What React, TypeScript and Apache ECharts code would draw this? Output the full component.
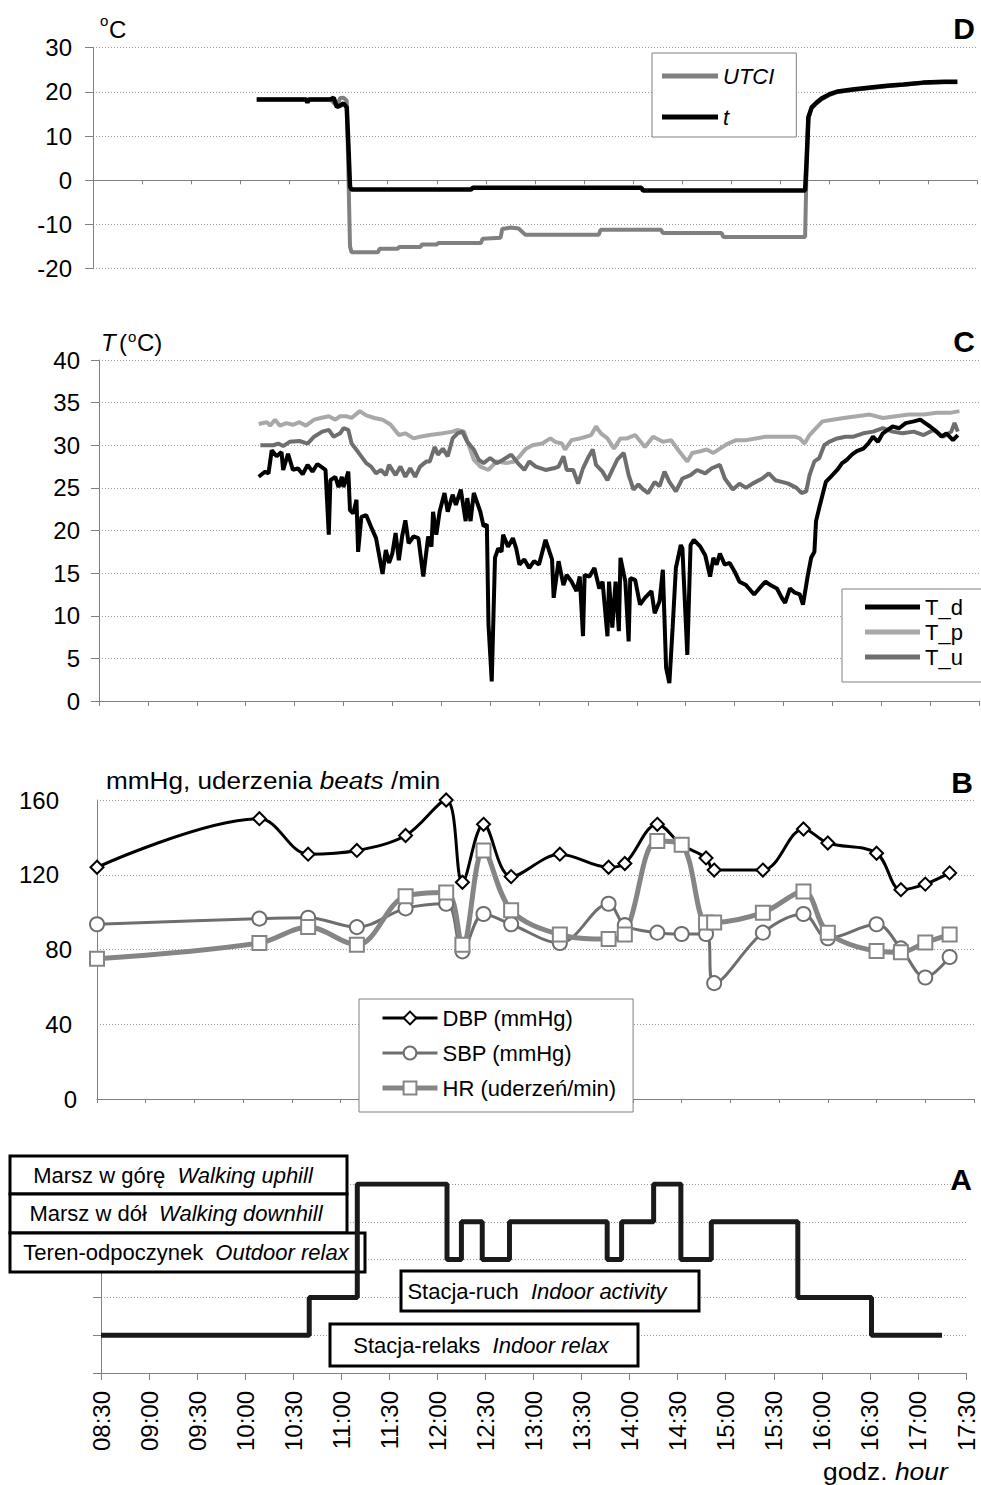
import React, { useEffect, useRef } from "react";
import * as echarts from "echarts";

const FONT = '"Liberation Sans", Arial, Helvetica, sans-serif';

// Time axis, minutes of the day (08:30 .. 17:30)
const X_MIN = 510;
const X_MAX = 1050;
const X_STEP = 30;

// ---------------- Panel D : UTCI and air temperature t (°C) ----------------
const dUTCI: [number, number][] = [
  [610, 18.3], [655, 18.3], [659, 16.8], [661, 18.6], [663, 18.7], [665, 18.0], [666, 2],
  [667, -15], [668, -16.3], [684, -16.3], [685, -15.5], [696, -15.5], [697, -15.1], [710, -15.1],
  [711, -14.5], [720, -14.5], [721, -14.2], [747, -14.2], [748, -13.2], [759, -13.0], [760, -11.0],
  [765, -10.7], [770, -10.9], [774, -12.3], [819, -12.3], [820, -11.2], [857, -11.2], [858, -11.9],
  [894, -11.9], [895, -12.8], [945, -12.8], [946, 5], [947, 14.0], [949, 16.3], [952, 17.4],
  [955, 18.3], [960, 19.3], [965, 20.0], [975, 20.5], [985, 20.9], [995, 21.3], [1005, 21.6],
  [1017, 22.0], [1030, 22.2], [1038, 22.2],
];
const dAirT: [number, number][] = [
  [610, 18.3], [640, 18.3], [641, 17.6], [642, 18.3], [655, 18.3], [657, 18.7], [659, 16.6],
  [661, 16.9], [663, 17.4], [665, 16.5], [666, 8], [667, -1.5], [668, -2.1], [741, -2.1],
  [742, -1.7], [845, -1.7], [846, -2.3], [945, -2.3], [946, 5], [947, 14.3], [949, 16.5],
  [952, 17.6], [955, 18.5], [960, 19.5], [965, 20.1], [975, 20.6], [985, 21.0], [995, 21.4],
  [1005, 21.7], [1017, 22.1], [1030, 22.3], [1038, 22.3],
];

// ---------------- Panel C : T_d, T_p, T_u (°C) ----------------
const cTd: [number, number][] = [
  [608, 26.3], [612, 26.9], [614, 26.7], [616, 29.4], [619, 28.7], [622, 29.2], [623, 27.1], [626, 29.0],
  [629, 27.1], [632, 27.3], [635, 26.6], [638, 27.7], [641, 26.9], [644, 27.8], [649, 27.1], [651, 19.5],
  [652, 25.9], [655, 26.3], [657, 25.1], [659, 26.3], [660, 25.1], [663, 26.9], [664, 22.4], [666, 22.0],
  [668, 23.6], [669, 17.5], [671, 21.6], [674, 21.8], [677, 20.4], [680, 19.1], [684, 14.9], [686, 17.7],
  [688, 16.2], [690, 17.3], [692, 19.7], [694, 16.5], [696, 19.3], [698, 21.2], [700, 18.5], [703, 19.3],
  [706, 19.1], [709, 14.6], [712, 19.3], [714, 18.1], [715, 22.2], [717, 19.5], [719, 22.2], [722, 24.4],
  [724, 22.2], [727, 24.2], [729, 23.0], [732, 24.8], [735, 21.1], [736, 23.8], [738, 21.1], [740, 24.4],
  [744, 22.2], [746, 20.5], [748, 20.7], [749, 9.0], [751, 2.3], [753, 16.8], [755, 17.9], [757, 17.5],
  [758, 19.5], [761, 18.1], [764, 19.1], [766, 17.9], [768, 16.0], [771, 16.6], [774, 15.6], [777, 16.4],
  [780, 16.0], [784, 18.9], [788, 16.6], [789, 12.1], [792, 16.4], [795, 13.6], [797, 14.8], [800, 14.0],
  [803, 12.9], [805, 14.6], [807, 7.6], [808, 14.8], [811, 14.6], [814, 15.6], [817, 13.2], [819, 14.0],
  [822, 7.6], [823, 14.0], [825, 8.6], [827, 14.0], [829, 8.2], [830, 16.8], [833, 14.0], [835, 7.0],
  [836, 14.4], [839, 14.2], [842, 11.3], [845, 12.1], [849, 12.9], [851, 10.3], [854, 11.7], [856, 15.4],
  [858, 3.9], [860, 2.1], [862, 8.6], [864, 15.6], [867, 18.3], [868, 17.9], [871, 5.4], [873, 18.3],
  [875, 18.9], [879, 18.1], [882, 17.1], [885, 14.6], [887, 16.8], [889, 16.0], [891, 17.3], [894, 16.0],
  [897, 16.2], [900, 15.2], [903, 14.0], [907, 13.6], [912, 12.5], [917, 13.6], [919, 14.0], [922, 13.6],
  [926, 13.2], [929, 12.1], [931, 11.5], [934, 13.2], [937, 12.7], [940, 12.5], [942, 11.3], [945, 14.8],
  [947, 16.8], [949, 17.5], [950, 21.1], [952, 22.7], [954, 24.2], [956, 25.7], [959, 26.3], [963, 27.1],
  [966, 27.9], [969, 28.3], [972, 28.9], [975, 29.3], [979, 29.6], [982, 30.2], [985, 31.0], [988, 30.4],
  [991, 31.4], [994, 31.8], [997, 32.2], [1001, 32.0], [1005, 32.6], [1010, 32.8], [1014, 33.0], [1017, 32.6],
  [1020, 32.2], [1024, 31.6], [1027, 31.0], [1030, 31.4], [1034, 30.6], [1037, 31.2],
];
const cTp: [number, number][] = [
  [608, 32.5], [613, 32.7], [615, 32.3], [618, 33.0], [621, 32.3], [625, 32.6], [629, 32.4], [633, 32.7],
  [637, 32.3], [642, 33.0], [646, 33.2], [651, 33.4], [655, 33.0], [658, 33.4], [662, 33.4], [665, 33.2],
  [670, 34.0], [674, 33.5], [679, 33.2], [684, 33.0], [689, 32.4], [694, 31.2], [698, 31.4], [703, 30.8],
  [707, 31.0], [713, 31.2], [721, 31.4], [727, 31.6], [730, 31.8], [734, 31.6], [740, 28.3], [744, 27.5],
  [749, 27.1], [754, 28.1], [760, 27.9], [765, 28.1], [768, 28.7], [772, 29.6], [776, 30.0], [782, 30.2],
  [787, 30.8], [790, 30.4], [794, 30.2], [796, 29.5], [800, 30.6], [805, 30.8], [809, 31.0], [812, 31.2],
  [815, 32.2], [818, 31.4], [822, 30.8], [826, 29.6], [830, 30.8], [834, 30.8], [839, 31.2], [845, 29.8],
  [850, 31.0], [856, 30.4], [861, 30.6], [866, 29.3], [871, 28.1], [874, 29.1], [879, 29.3], [883, 29.5],
  [887, 29.1], [891, 29.6], [896, 30.2], [901, 30.6], [907, 30.6], [913, 30.8], [919, 31.0], [925, 31.0],
  [931, 31.0], [937, 31.0], [940, 30.8], [943, 30.2], [946, 31.2], [950, 32.0], [954, 32.8], [960, 33.0],
  [967, 33.2], [975, 33.4], [983, 33.6], [991, 33.2], [999, 33.4], [1007, 33.6], [1016, 33.6], [1024, 33.8],
  [1032, 33.8], [1038, 34.0],
];
const cTu: [number, number][] = [
  [609, 30.0], [617, 30.0], [620, 30.2], [623, 29.9], [627, 30.4], [633, 30.5], [638, 30.2], [642, 31.0],
  [647, 31.6], [651, 31.8], [654, 31.0], [658, 31.4], [660, 32.0], [663, 31.8], [665, 30.2], [669, 29.2],
  [674, 27.9], [677, 27.5], [680, 26.7], [683, 27.1], [686, 26.5], [688, 27.7], [692, 26.5], [695, 27.5],
  [698, 26.3], [701, 27.3], [704, 26.3], [707, 27.5], [711, 28.1], [713, 28.1], [716, 29.8], [718, 28.9],
  [721, 29.6], [724, 28.7], [727, 30.8], [730, 31.4], [733, 31.6], [736, 30.4], [740, 29.5], [743, 28.3],
  [746, 27.9], [750, 28.5], [754, 27.9], [758, 28.3], [763, 28.9], [767, 27.9], [771, 27.1], [774, 28.1],
  [778, 27.5], [784, 27.1], [789, 27.3], [792, 27.5], [795, 28.7], [797, 27.1], [801, 27.1], [804, 25.5],
  [807, 27.3], [810, 28.5], [813, 29.5], [815, 27.7], [819, 26.9], [822, 25.9], [828, 28.3], [832, 29.1],
  [835, 26.5], [838, 24.8], [841, 25.4], [844, 24.8], [847, 24.4], [851, 25.7], [854, 25.2], [857, 26.9],
  [860, 25.7], [864, 24.6], [868, 26.1], [873, 26.5], [877, 27.1], [882, 26.7], [886, 27.3], [891, 27.7],
  [894, 26.1], [899, 24.8], [903, 25.5], [907, 25.0], [911, 25.5], [917, 26.1], [921, 26.7], [925, 25.9],
  [929, 25.7], [933, 25.5], [938, 25.0], [941, 24.4], [944, 24.6], [946, 26.5], [949, 28.1], [952, 28.5],
  [955, 30.0], [958, 30.4], [963, 30.8], [968, 31.0], [973, 31.0], [979, 31.4], [985, 31.6], [991, 32.0],
  [997, 31.6], [1003, 31.4], [1010, 31.6], [1016, 31.2], [1022, 31.8], [1028, 31.0], [1033, 31.6],
  [1035, 32.6], [1037, 31.6],
];

// ---------------- Panel B : blood pressure and heart rate ----------------
const bTimes = [
  "08:30", "10:10", "10:40", "11:10", "11:40", "12:05", "12:15", "12:28", "12:45", "13:15", "13:45", "13:55",
  "14:15", "14:30", "14:45", "14:50", "15:20", "15:45", "16:00", "16:30", "16:45", "17:00", "17:15",
];
const bDBP = [124, 150, 131, 133, 141, 160, 116, 147, 119, 131, 124, 126, 147, 136, 129, 122.5, 122.5, 144.5, 137, 131.5, 112, 115, 121];
const bSBP = [93.5, 96.5, 97, 92, 102, 104.5, 79, 99, 93.5, 83.5, 104.5, 93, 89, 88.3, 88.3, 62, 89, 99, 86, 93.5, 80.6, 65, 76];
const bHR = [75, 83.5, 92, 82.5, 108.5, 110.5, 82.5, 133, 101, 88, 85.6, 88, 138, 136, 94.5, 94.5, 99.7, 111, 89, 79.2, 78.5, 83.7, 88];

// ---------------- Panel A : activity level (1..5) ----------------
const aTimes = ["08:30", "10:40", "11:10", "12:06", "12:15", "12:28", "12:45", "13:46", "13:55", "14:15", "14:32", "14:51", "15:45", "16:31", "17:15"];
const aLevels = [1, 2, 5, 3, 4, 3, 4, 3, 4, 5, 3, 4, 2, 1, 1];
const aActivityPL = ["Stacja-relaks", "Stacja-ruch", "Teren-odpoczynek", "Marsz w dół", "Marsz w górę"];
const aActivityEN = ["Indoor relax", "Indoor activity", "Outdoor relax", "Walking downhill", "Walking uphill"];

const toMin = (s: string) => {
  const [h, m] = s.split(":").map(Number);
  return h * 60 + m;
};
const fmtTime = (v: number) =>
  `${String(Math.floor(v / 60)).padStart(2, "0")}:${String(v % 60).padStart(2, "0")}`;

const AX = "#808080";
const GRID_LINE = { show: true, lineStyle: { color: "#9a9a9a", type: [1, 2] as any, width: 1 } };

function makeX(gridIndex: number, tickLen: number, showLabels: boolean) {
  return {
    type: "value",
    gridIndex,
    min: X_MIN,
    max: X_MAX,
    interval: X_STEP,
    splitLine: { show: false },
    axisLine: { show: true, onZero: true, lineStyle: { color: AX, width: 1 } },
    axisTick: { show: true, length: tickLen, lineStyle: { color: AX } },
    axisLabel: showLabels
      ? {
          show: true,
          rotate: 90,
          margin: 18,
          fontSize: 24,
          fontFamily: FONT,
          color: "#000",
          formatter: (v: number) => fmtTime(v),
        }
      : { show: false },
  };
}

function text(x: number, y: number, str: string, opts: any = {}) {
  return {
    type: "text",
    x,
    y,
    z: 5,
    scaleX: opts.scaleX ?? 1,
    style: {
      text: str,
      fill: "#000",
      fontFamily: FONT,
      fontSize: opts.fontSize ?? 24,
      fontStyle: opts.fontStyle ?? "normal",
      fontWeight: opts.fontWeight ?? "normal",
      align: opts.align ?? "left",
      verticalAlign: "middle",
      rich: opts.rich,
    },
  };
}

function mixedText(x: number, y: number, parts: [string, boolean][], size: number, align: string, scaleX = 1) {
  const base = { fontFamily: FONT, fontSize: size, fill: "#000" };
  const str = parts.map(([s, it]) => `{${it ? "i" : "n"}|${s}}`).join("");
  return text(x, y, str, {
    fontSize: size,
    align,
    scaleX,
    rich: { n: { ...base }, i: { ...base, fontStyle: "italic" } },
  });
}

function box(x: number, y: number, w: number, h: number) {
  return {
    type: "rect",
    z: 1,
    shape: { x, y, width: w, height: h },
    style: { fill: "#fff", stroke: "#000", lineWidth: 3 },
  };
}

export default function App() {
  const ref = useRef<HTMLDivElement>(null);

  useEffect(() => {
    if (!ref.current) return;
    const chart = echarts.init(ref.current, null, { renderer: "svg" });

    const bX = bTimes.map(toMin);
    const aData = aTimes.map((t, i) => [toMin(t), aLevels[i]]);

    const labelBase = { fontSize: 24, fontFamily: FONT, color: "#000" };
    const act = (i: number): [string, boolean][] => [[aActivityPL[i] + "  ", false], [aActivityEN[i], true]];

    const option: any = {
      animation: false,
      backgroundColor: "#fff",
      grid: [
        { left: 93, right: 4, top: 47.7, height: 221 },
        { left: 99, right: 2, top: 360, height: 341 },
        { left: 97, right: 7, top: 800, height: 299 },
        { left: 101, right: 15, top: 1184, height: 189 },
      ],
      xAxis: [makeX(0, 4, false), makeX(1, 5, false), makeX(2, 4, false), makeX(3, 7, true)],
      yAxis: [
        {
          type: "value", gridIndex: 0, min: -20, max: 30, interval: 10,
          axisLine: { show: true, lineStyle: { color: AX } },
          axisTick: { show: true, length: 8, lineStyle: { color: AX } },
          axisLabel: { ...labelBase, margin: 21 },
          splitLine: GRID_LINE,
        },
        {
          type: "value", gridIndex: 1, min: 0, max: 40, interval: 5,
          axisLine: { show: true, lineStyle: { color: AX } },
          axisTick: { show: true, length: 8, lineStyle: { color: AX } },
          axisLabel: { ...labelBase, margin: 19 },
          splitLine: GRID_LINE,
        },
        {
          type: "value", gridIndex: 2, min: 0, max: 160, interval: 40,
          axisLine: { show: true, lineStyle: { color: AX } },
          axisTick: { show: false },
          axisLabel: {
            ...labelBase,
            margin: 20,
            formatter: (v: number) => (v >= 100 ? `{w|${v}}` : v > 0 ? `{m|${v}}` : `{z|${v}}`),
            rich: {
              w: { ...labelBase, padding: [0, 18, 0, 0] },
              m: { ...labelBase, padding: [0, 5, 0, 0] },
              z: { ...labelBase },
            },
          },
          splitLine: GRID_LINE,
        },
        {
          type: "value", gridIndex: 3, min: 0, max: 5, interval: 1,
          axisLine: { show: true, lineStyle: { color: AX } },
          axisTick: { show: true, length: 8, lineStyle: { color: AX } },
          axisLabel: { show: false },
          splitLine: GRID_LINE,
        },
      ],
      legend: [
        {
          data: [{ name: "UTCI", icon: "rect" }, { name: "t", icon: "rect" }],
          orient: "vertical", left: 652, top: 53, itemWidth: 56, itemHeight: 5, itemGap: 17,
          padding: [11, 22, 8, 10], borderColor: AX, borderWidth: 1, backgroundColor: "#fff",
          selectedMode: false,
          textStyle: { fontSize: 22, lineHeight: 24, fontFamily: FONT, fontStyle: "italic", color: "#000" },
        },
        {
          data: [{ name: "T_d", icon: "rect" }, { name: "T_p", icon: "rect" }, { name: "T_u", icon: "rect" }],
          orient: "vertical", left: 842, top: 589, itemWidth: 55, itemHeight: 5, itemGap: 1,
          padding: [6, 45, 13, 23], borderColor: AX, borderWidth: 1, backgroundColor: "#fff",
          selectedMode: false,
          textStyle: { fontSize: 22, lineHeight: 24, fontFamily: FONT, color: "#000" },
        },
        {
          data: [
            { name: "DBP (mmHg)", lineStyle: { width: 3, color: "#000" } },
            { name: "SBP (mmHg)", lineStyle: { width: 3, color: "#6e6e6e" } },
            { name: "HR (uderzeń/min)", lineStyle: { width: 5, color: "#858585" } },
          ],
          orient: "vertical", left: 359, top: 999, itemWidth: 55, itemHeight: 16, itemGap: 11,
          padding: [7, 17, 12, 21], borderColor: AX, borderWidth: 1, backgroundColor: "#fff",
          selectedMode: false,
          textStyle: { fontSize: 22, lineHeight: 24, fontFamily: FONT, color: "#000" },
        },
      ],
      series: [
        {
          name: "UTCI", type: "line", xAxisIndex: 0, yAxisIndex: 0, data: dUTCI, symbol: "none",
          color: "#808080", lineStyle: { color: "#808080", width: 4 },
        },
        {
          name: "t", type: "line", xAxisIndex: 0, yAxisIndex: 0, data: dAirT, symbol: "none",
          color: "#000", lineStyle: { color: "#000", width: 4.5 },
        },
        {
          name: "T_p", type: "line", xAxisIndex: 1, yAxisIndex: 1, data: cTp, symbol: "none",
          color: "#a8a8a8", lineStyle: { color: "#a8a8a8", width: 4 },
        },
        {
          name: "T_u", type: "line", xAxisIndex: 1, yAxisIndex: 1, data: cTu, symbol: "none",
          color: "#6e6e6e", lineStyle: { color: "#6e6e6e", width: 4 },
        },
        {
          name: "T_d", type: "line", xAxisIndex: 1, yAxisIndex: 1, data: cTd, symbol: "none",
          color: "#000", lineStyle: { color: "#000", width: 4 },
        },
        {
          name: "DBP (mmHg)", type: "line", xAxisIndex: 2, yAxisIndex: 2, smooth: 0.35,
          data: bX.map((x, i) => [x, bDBP[i]]), symbol: "emptyDiamond", symbolSize: 13,
          color: "#000", itemStyle: { color: "#000", borderWidth: 2 }, lineStyle: { color: "#000", width: 3 },
        },
        {
          name: "SBP (mmHg)", type: "line", xAxisIndex: 2, yAxisIndex: 2, smooth: 0.35,
          data: bX.map((x, i) => [x, bSBP[i]]), symbol: "emptyCircle", symbolSize: 14,
          color: "#6e6e6e", itemStyle: { color: "#6e6e6e", borderWidth: 2 }, lineStyle: { color: "#6e6e6e", width: 3 },
        },
        {
          name: "HR (uderzeń/min)", type: "line", xAxisIndex: 2, yAxisIndex: 2, smooth: 0.35,
          data: bX.map((x, i) => [x, bHR[i]]), symbol: "emptyRect", symbolSize: 14,
          color: "#858585", itemStyle: { color: "#858585", borderWidth: 2 }, lineStyle: { color: "#858585", width: 5 },
        },
        {
          name: "activity", type: "line", xAxisIndex: 3, yAxisIndex: 3, step: "end", data: aData,
          symbol: "none", z: 3, color: "#1a1a1a", lineStyle: { color: "#1a1a1a", width: 5 },
        },
      ],
      graphic: [
        // Panel D
        text(100, 20, "o", { fontSize: 15 }),
        text(109, 29, "C", { fontSize: 24 }),
        text(964, 28, "D", { fontSize: 30, fontWeight: "bold", align: "center" }),
        // Panel C
        text(101, 342, "T", { fontSize: 24, fontStyle: "italic" }),
        text(119, 342, "(", { fontSize: 24 }),
        text(128, 336, "o", { fontSize: 15 }),
        text(137, 342, "C)", { fontSize: 24 }),
        text(964, 341, "C", { fontSize: 30, fontWeight: "bold", align: "center" }),
        // Panel B
        mixedText(106, 780, [["mmHg, uderzenia ", false], ["beats", true], [" /min", false]], 24, "left", 1.09),
        text(962, 782, "B", { fontSize: 30, fontWeight: "bold", align: "center" }),
        // Panel A boxes
        box(10, 1156, 337, 38),
        box(10, 1194, 337, 39),
        box(10, 1233, 355, 39),
        box(401, 1271, 298, 40),
        box(330, 1324, 308, 42),
        mixedText(173, 1175, act(4), 22, "center"),
        mixedText(176, 1213.5, act(3), 22, "center"),
        mixedText(186, 1252.5, act(2), 22, "center"),
        mixedText(537, 1291, act(1), 22, "center"),
        mixedText(481, 1345, act(0), 22, "center"),
        text(961, 1179, "A", { fontSize: 30, fontWeight: "bold", align: "center" }),
        mixedText(823, 1471, [["godz. ", false], ["hour", true]], 24, "left", 1.1),
      ],
    };

    chart.setOption(option);
    return () => chart.dispose();
  }, []);

  return (
    <div
      ref={ref}
      style={{ position: "absolute", left: 0, top: 0, width: 981, height: 1485, background: "#fff" }}
    />
  );
}
